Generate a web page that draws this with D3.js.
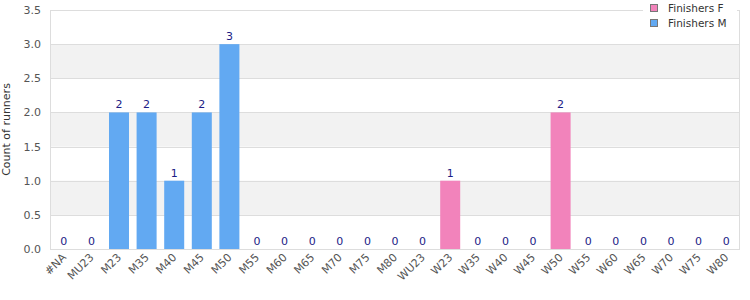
<!DOCTYPE html>
<html>
<head>
<meta charset="utf-8">
<script src="https://cdn.jsdelivr.net/npm/d3@7"></script>
<style>
  body { margin: 0; background: #fff; }
  text { font-family: "DejaVu Sans", Verdana, sans-serif; }
</style>
</head>
<body>
<div id="chart"></div>
<script>
// categories and values
const categories = ["#NA","MU23","M23","M35","M40","M45","M50","M55","M60","M65","M70","M75","M80",
  "WU23","W23","W35","W40","W45","W50","W55","W60","W65","W70","W75","W80"];
const finishersM = [0,0,2,2,1,2,3,0,0,0,0,0,0, 0,0,0,0,0,0,0,0,0,0,0,0];
const finishersF = [0,0,0,0,0,0,0,0,0,0,0,0,0, 0,1,0,0,0,2,0,0,0,0,0,0];
const yTicks = [0,0.5,1,1.5,2,2.5,3,3.5];
const seriesNames = ["Finishers F","Finishers M"];
const colors = {"Finishers F": "#f283bb", "Finishers M": "#62a9f2"};

const W = 750, H = 300;
const margin = {top: 10, right: 10, bottom: 51, left: 50};
const width = W - margin.left - margin.right;
const height = H - margin.top - margin.bottom;

const svg = d3.select('#chart').append('svg')
  .attr('width', W).attr('height', H);
const g = svg.append('g')
  .attr('transform', 'translate(' + margin.left + ',' + margin.top + ')');

// scales
const x = d3.scaleBand().domain(categories).range([0, width]).paddingInner(0.275).paddingOuter(0.1375);
const y = d3.scaleLinear().domain([0, 3.5]).range([height, 0]);

// alternating bands
const bands = d3.range(0, yTicks.length - 1).filter(i => i % 2 === 1);
g.selectAll('.band').data(bands).join('rect')
  .attr('x', 0).attr('width', width)
  .attr('y', i => y(yTicks[i + 1]))
  .attr('height', i => y(yTicks[i]) - y(yTicks[i + 1]))
  .attr('fill', '#f2f2f2');

// grid lines
g.selectAll('.grid').data(yTicks).join('line')
  .attr('x1', 0).attr('x2', width)
  .attr('y1', d => Math.round(y(d)) + 0.5).attr('y2', d => Math.round(y(d)) + 0.5)
  .attr('stroke', '#dddddd');

// plot border
g.append('rect')
  .attr('x', 0.5).attr('y', 0.5)
  .attr('width', width - 1).attr('height', height)
  .attr('fill', 'none').attr('stroke', '#dddddd');

// data table (stacked)
const rows = categories.map((c, i) => ({cat: c, "Finishers M": finishersM[i], "Finishers F": finishersF[i]}));
const stack = d3.stack().keys(["Finishers M", "Finishers F"])(rows);

g.selectAll('.series').data(stack).join('g')
  .attr('fill', s => colors[s.key])
  .selectAll('rect').data(s => s).join('rect')
  .attr('x', d => x(d.data.cat))
  .attr('width', x.bandwidth())
  .attr('y', d => y(d[1]))
  .attr('height', d => y(d[0]) - y(d[1]));

// value labels
g.selectAll('.val').data(rows).join('text')
  .attr('x', d => x(d.cat) + x.bandwidth() / 2)
  .attr('y', d => y(d["Finishers M"] + d["Finishers F"]) - 4)
  .attr('text-anchor', 'middle')
  .style('font-size', '11px')
  .attr('fill', '#1c1c86')
  .text(d => d["Finishers M"] + d["Finishers F"]);

// y axis labels
g.selectAll('.ytick').data(yTicks).join('text')
  .attr('x', -9)
  .attr('y', d => y(d) + 4)
  .attr('text-anchor', 'end')
  .style('font-size', '11px')
  .attr('fill', '#555')
  .text(d => d.toFixed(1));

// x axis labels
g.selectAll('.xtick').data(categories).join('text')
  .attr('transform', d => 'translate(' + (x(d) + x.bandwidth() / 2 + 3) + ',' + (height + 9) + ') rotate(-45)')
  .attr('text-anchor', 'end')
  .style('font-size', '11px')
  .attr('fill', '#555')
  .text(d => d);

// y title
svg.append('text')
  .attr('transform', 'translate(10,' + (margin.top + height / 2) + ') rotate(-90)')
  .attr('text-anchor', 'middle')
  .style('font-size', '11px')
  .attr('fill', '#333')
  .text('Count of runners');

// legend
const legend = svg.append('g').attr('transform', 'translate(643,0)');
legend.append('rect').attr('x', 0).attr('y', 0).attr('width', 94).attr('height', 33).attr('fill', '#fff');
const li = legend.selectAll('.li').data(seriesNames).join('g')
  .attr('transform', (d, i) => 'translate(0,' + (4 + i * 15) + ')');
li.append('rect')
  .attr('x', 7.5).attr('y', 0.5).attr('width', 7).attr('height', 7)
  .attr('fill', d => colors[d]).attr('stroke', '#777');
li.append('text')
  .attr('x', 25).attr('y', 8)
  .style('font-size', '10.5px')
  .attr('fill', '#333')
  .text(d => d);
</script>
</body>
</html>
